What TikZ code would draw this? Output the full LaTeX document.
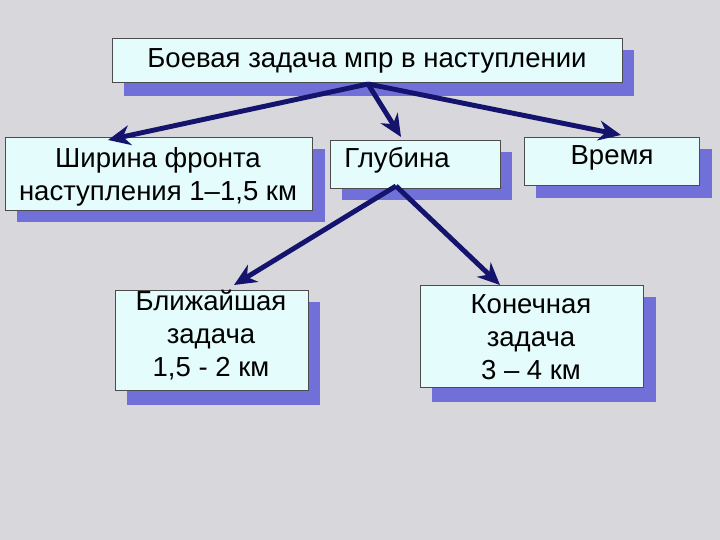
\documentclass[tikz,border=0pt]{standalone}
\usepackage{fontspec}
\setmainfont{Liberation Sans}
\usetikzlibrary{arrows.meta}
\definecolor{bg}{HTML}{D8D8DC}
\definecolor{boxf}{HTML}{E4FCFC}
\definecolor{shad}{HTML}{7070D8}
\definecolor{arr}{HTML}{14146E}
\tikzset{
  bx/.style={draw=black!70, line width=0.4pt, fill=boxf},
  sh/.style={fill=shad, draw=none},
  ar/.style={draw=arr, line width=4.2pt, -{Stealth[length=19pt,width=17pt,inset=6pt]}},
  lbl/.style={font=\fontsize{23.5}{28}\selectfont, align=center, text=black}
}
\begin{document}
\begin{tikzpicture}[x=0.03cm,y=-0.03cm]
\fill[bg] (0,0) rectangle (720,540);
\useasboundingbox (0,0) rectangle (720,540);
% shadows
\fill[sh] (124,50) rectangle (634,96);
\fill[sh] (17,149) rectangle (325,222);
\fill[sh] (342,152) rectangle (512,200);
\fill[sh] (536,149) rectangle (712,198);
\fill[sh] (127,302) rectangle (320,405);
\fill[sh] (432,297) rectangle (656,402);
% boxes
\node[bx, minimum width=510*0.03cm, minimum height=44*0.03cm, anchor=north west] (top) at (112,38) {};
\node[lbl] at (367,61) {Боевая задача мпр в наступлении};
\node[bx, minimum width=307*0.03cm, minimum height=73*0.03cm, anchor=north west] (shir) at (5,137) {};
\node[lbl] at (158,177) {Ширина фронта\\наступления 1–1,5 км};
\node[bx, minimum width=170*0.03cm, minimum height=48*0.03cm, anchor=north west] (glub) at (330,140) {};
\node[lbl] at (397,160) {Глубина};
\node[bx, minimum width=175*0.03cm, minimum height=48*0.03cm, anchor=north west] (vrem) at (524,137) {};
\node[lbl] at (612,158) {Время};
\node[bx, minimum width=193*0.03cm, minimum height=100*0.03cm, anchor=north west] (blizh) at (115,290) {};
\node[lbl] at (211,335) {Ближайшая\\задача\\1,5 - 2 км};
\node[bx, minimum width=223*0.03cm, minimum height=102*0.03cm, anchor=north west] (kon) at (420,285) {};
\node[lbl] at (531,337) {Конечная\\задача\\3 – 4 км};
% arrows
\coordinate (o1) at (368,84);
\coordinate (o2) at (396,186);
\draw[ar] (o1) -- (108,140);
\draw[ar] (o1) -- (401,137);
\draw[ar] (o1) -- (621,135);
\draw[ar] (o2) -- (234,285);
\draw[ar] (o2) -- (500,285);
\end{tikzpicture}
\end{document}
